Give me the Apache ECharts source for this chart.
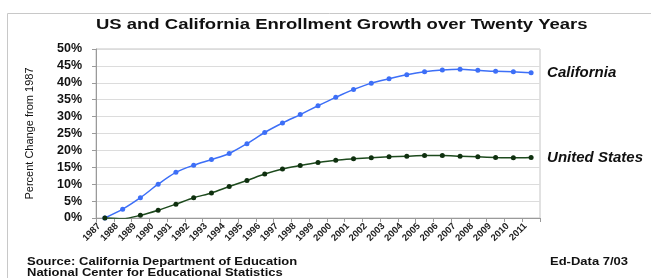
<!DOCTYPE html>
<html>
<head>
<meta charset="utf-8">
<script src="https://cdn.jsdelivr.net/npm/echarts@6/dist/echarts.min.js"></script>
<style>
  html, body { margin: 0; padding: 0; background: #fff; }
  #chart { width: 651px; height: 278px; }
</style>
</head>
<body>
<div id="chart"></div>
<script>
const years = ['1987', '1988', '1989', '1990', '1991', '1992', '1993', '1994', '1995', '1996',
    '1997', '1998', '1999', '2000', '2001', '2002', '2003', '2004', '2005', '2006',
    '2007', '2008', '2009', '2010', '2011']

// percent change from 1987
const california = [0, 2.6, 6.0, 10.0, 13.5, 15.6, 17.3, 19.1, 22.0, 25.3,
    28.1, 30.6, 33.2, 35.7, 38.0, 39.9, 41.2, 42.4, 43.3, 43.8,
    44.0, 43.7, 43.4, 43.3, 43.0]
const unitedStates = [0, -0.2, 0.8, 2.3, 4.1, 6.0, 7.4, 9.3, 11.1, 13.0,
    14.5, 15.5, 16.4, 17.1, 17.5, 17.8, 18.1, 18.3, 18.5, 18.5,
    18.3, 18.1, 17.9, 17.8, 17.9]

const yTicks = [0, 5, 10, 15, 20, 25, 30, 35, 40, 45, 50]

let chart = echarts.init(document.getElementById('chart'))

let font = 'Liberation Sans, Arial, sans-serif'

// the original picture is a bit stretched sideways, so texts get a scaleX
function wideText(text, x, y, size, sx) {
    return {
        type: 'text', x: x, y: y, scaleX: sx, silent: true,
        style: {
            text: text, font: 'bold ' + size + 'px ' + font, fill: '#111',
            textVerticalAlign: 'middle'
        }
    }
}

function seriesOf(name, data, color, dot) {
    return {
        name: name,
        type: 'line',
        data: data,
        smooth: 0.3,
        symbol: 'circle',
        symbolSize: 5,
        lineStyle: { color: color, width: 1.5 },
        itemStyle: { color: dot },
        endLabel: {
            show: true,
            formatter: '{a}',
            distance: 16,
            fontFamily: font,
            fontSize: 15,
            fontWeight: 'bold',
            fontStyle: 'italic',
            color: '#111'
        }
    }
}

let option = {
    animation: false,
    graphic: [
        {
            type: 'rect',
            shape: { x: 7.5, y: 13.5, width: 700, height: 300 },
            style: { fill: 'none', stroke: '#c8c8c8', lineWidth: 1 },
            silent: true
        },
        wideText('US and California Enrollment Growth over Twenty Years', 96, 25, 14, 1.32),
        wideText('Source: California Department of Education', 27, 262, 10, 1.3),
        wideText('National Center for Educational Statistics', 27, 273, 10, 1.3),
        wideText('Ed-Data 7/03', 550, 262, 10, 1.3)
    ],
    grid: {
        left: 96,
        right: 111,
        top: 49,
        bottom: 60,
        show: true,
        borderColor: '#c4c4c4',
        borderWidth: 1
    },
    xAxis: {
        type: 'category',
        data: years,
        boundaryGap: true,
        axisLine: { lineStyle: { color: '#9a9a9a' } },
        axisTick: { show: true, length: 4, lineStyle: { color: '#9a9a9a' } },
        axisLabel: {
            rotate: 45,
            interval: 0,
            margin: 1,
            padding: [0, 8, 0, 0],
            fontFamily: font,
            fontSize: 9.5,
            fontWeight: 'bold',
            color: '#222'
        }
    },
    yAxis: {
        type: 'value',
        min: 0,
        max: 50,
        interval: 5,
        name: 'Percent Change from 1987',
        nameLocation: 'middle',
        nameGap: 61,
        nameTextStyle: { fontFamily: font, fontSize: 11, color: '#111' },
        axisLine: { show: true, lineStyle: { color: '#9a9a9a' } },
        axisTick: { show: true, length: 4, lineStyle: { color: '#9a9a9a' } },
        axisLabel: {
            formatter: v => yTicks.includes(v) ? v + '%' : '',
            margin: 14,
            fontFamily: font,
            fontSize: 12.5,
            fontWeight: 'bold',
            color: '#111'
        },
        splitLine: { lineStyle: { color: '#dcdcdc' } }
    },
    series: [
        seriesOf('California', california, '#3d6ff7', '#3d6ff7'),
        seriesOf('United States', unitedStates, '#1d4a1d', '#0f300f')
    ]
}

chart.setOption(option)
</script>
</body>
</html>
